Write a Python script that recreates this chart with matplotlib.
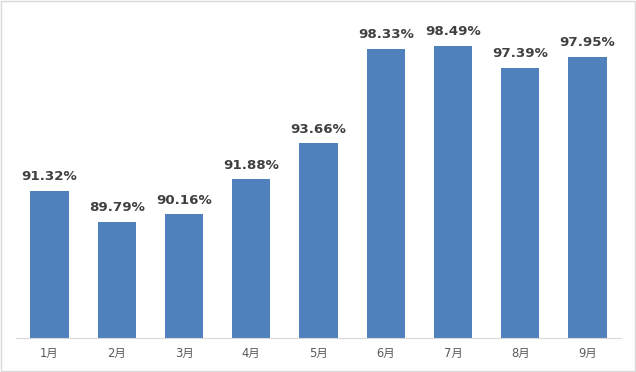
import matplotlib
matplotlib.use("Agg")
import matplotlib.pyplot as plt
import numpy as np

plt.rcParams['font.family'] = ['DejaVu Sans', 'Noto Sans CJK SC']

months = ['1月', '2月', '3月', '4月', '5月', '6月', '7月', '8月', '9月']
rates = [91.32, 89.79, 90.16, 91.88, 93.66, 98.33, 98.49, 97.39, 97.95]

fig = plt.figure(figsize=(6.36, 3.72), dpi=100)
ax = fig.add_axes([16 / 636, 34 / 372, 605 / 636, 323 / 372])

x = np.arange(len(months))
bars = ax.bar(x, rates, width=0.57, color='#4F81BD', zorder=2)

ax.set_xlim(-0.5, len(months) - 0.5)
ax.set_ylim(84.05, 100.0)

for xi, v in zip(x, rates):
    ax.annotate(f'{v:.2f}%', (xi, v), xytext=(0, 5.5), textcoords='offset points',
                ha='center', va='bottom', fontsize=9.6, fontweight='bold',
                color='#404040')

ax.set_xticks(x)
ax.set_xticklabels(months, fontsize=8.3, color='#595959')
ax.tick_params(axis='x', length=0, pad=6.5)
ax.set_yticks([])
for s in ['top', 'right', 'left']:
    ax.spines[s].set_visible(False)
ax.spines['bottom'].set_color('#D9D9D9')

# outer border
fig.patches.append(plt.Rectangle((0.001, 0.002), 0.997, 0.995, transform=fig.transFigure,
                                 fill=False, edgecolor='#D9D9D9', linewidth=1))

fig.savefig('out.png', dpi=100)
